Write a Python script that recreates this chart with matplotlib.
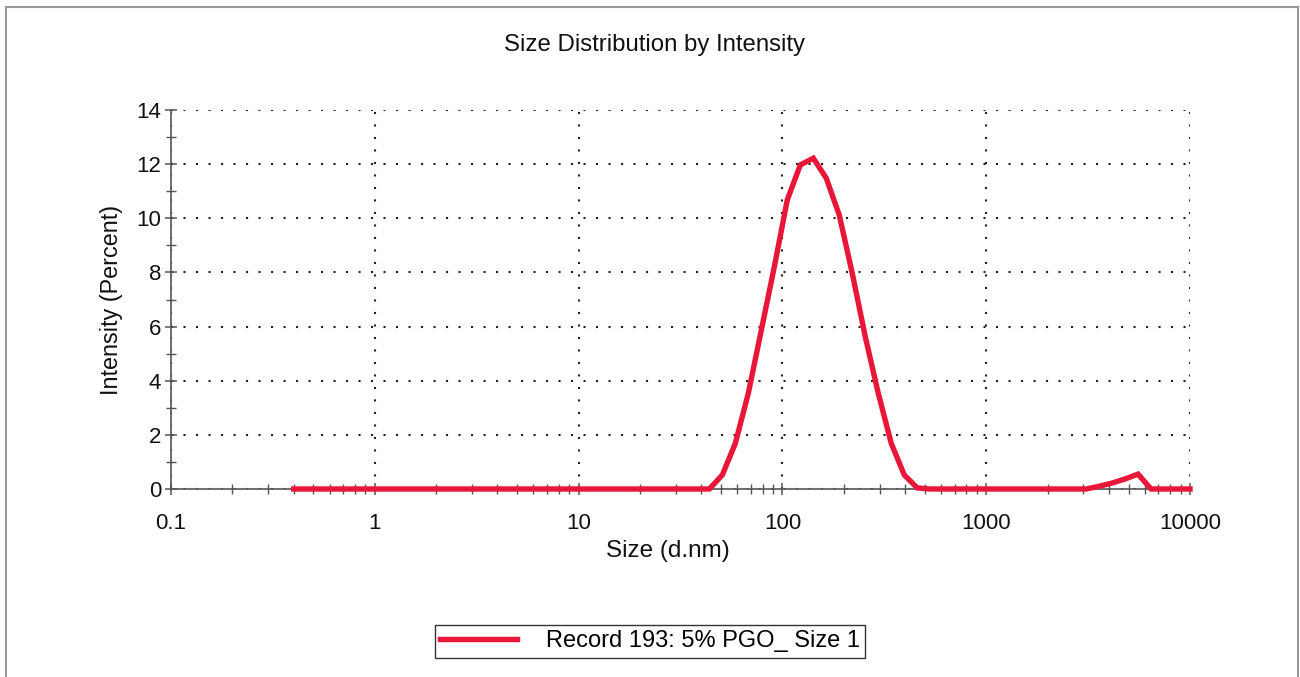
import matplotlib
matplotlib.use('Agg')
import matplotlib.pyplot as plt
from matplotlib.patches import Rectangle
from matplotlib.ticker import FixedLocator, NullFormatter

plt.rcParams['font.family'] = ['Liberation Sans', 'DejaVu Sans']

# size bins (d.nm) and intensity (%)
sizes = [0.4, 43.82, 50.75, 58.77, 68.06, 78.82, 91.28, 105.7, 122.4, 141.8,
         164.2, 190.1, 220.2, 255.0, 295.3, 342.0, 396.1, 458.7, 531.2,
         3091, 3580, 4145, 4801, 5560, 6439, 10000]
intensity = [0, 0, 0.52, 1.69, 3.54, 5.87, 8.21, 10.68, 11.97, 12.22,
             11.48, 10.12, 7.97, 5.63, 3.54, 1.69, 0.52, 0.04, 0,
             0, 0.1, 0.22, 0.37, 0.55, 0, 0]
series_name = 'Record 193: 5% PGO_ Size 1'

x_major = [0.1, 1, 10, 100, 1000, 10000]
x_labels = ['0.1', '1', '10', '100', '1000', '10000']
y_major = [0, 2, 4, 6, 8, 10, 12, 14]
y_minor = [1, 3, 5, 7, 9, 11, 13]

red = '#E8173A'
axis_col = '#555555'
W, H = 1300, 677

fig = plt.figure(figsize=(13, 6.77), dpi=100)
ax = fig.add_axes([171/W, 1 - 489/H, (1190-171)/W, (489-110)/H])

ax.plot(sizes, intensity, color=red, lw=3.9, solid_joinstyle='miter',
        label=series_name, zorder=5, clip_on=False)

ax.set_xscale('log')
ax.set_xlim(0.1, 10000)
ax.set_ylim(0, 14)

ax.xaxis.set_major_locator(FixedLocator(x_major))
ax.set_xticklabels(x_labels)
minors = [m * 10**e for e in range(-1, 4) for m in range(2, 10)]
ax.xaxis.set_minor_locator(FixedLocator(minors))
ax.xaxis.set_minor_formatter(NullFormatter())
ax.set_yticks(y_major)
ax.yaxis.set_minor_locator(FixedLocator(y_minor))

for s in ['top', 'right']:
    ax.spines[s].set_visible(False)
for s in ['left', 'bottom']:
    ax.spines[s].set_color(axis_col)
    ax.spines[s].set_linewidth(1.2)

ax.tick_params(which='major', direction='inout', length=8, width=1.1,
               color=axis_col, labelsize=16, labelcolor='#111111')
ax.tick_params(axis='x', which='major', pad=13)
ax.tick_params(axis='y', which='major', pad=3)
ax.tick_params(which='minor', direction='inout', length=7, width=1.0,
               color=axis_col)

ax.grid(True, which='major', color='#222222', linestyle=(0, (1, 5)), lw=1.5)

fig.text(654/W, 1 - 51/H, 'Size Distribution by Intensity', fontsize=17.3,
         ha='center', va='baseline', color='#111111')
fig.text(668/W, 1 - 557/H, 'Size (d.nm)', fontsize=17.5,
         ha='center', va='baseline', color='#111111')
ax.set_ylabel('Intensity (Percent)', fontsize=16.8, color='#111111')
ax.yaxis.set_label_coords((123 - 171) / (1190 - 171), 0.5)

leg = fig.legend(loc='center', bbox_to_anchor=(650/W, 1 - 641.5/H),
                 fontsize=17, handlelength=3.25, handletextpad=1.2,
                 fancybox=False, edgecolor='#333333', framealpha=1,
                 borderpad=0.25)
leg.get_frame().set_linewidth(1.0)

# outer gray frame of the screenshot
fig.patches.append(Rectangle((6/W, -0.05), 1292/W, 1.05 - 7/H,
                             transform=fig.transFigure, fill=False,
                             edgecolor='#999999', lw=1.5))

fig.savefig('out.png', dpi=100)
